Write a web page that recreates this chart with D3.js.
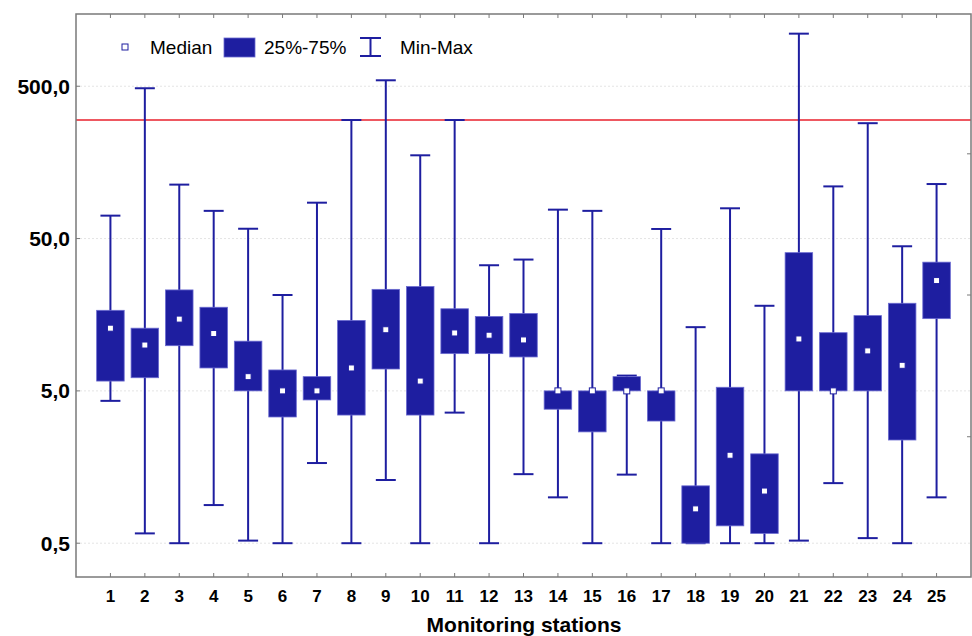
<!DOCTYPE html>
<html>
<head>
<meta charset="utf-8">
<script src="https://cdn.jsdelivr.net/npm/d3@7"></script>
<style>
  body { margin: 0; background: #fff; }
  svg { font-family: "Liberation Sans", Arial, sans-serif; }
</style>
</head>
<body>
<svg id="chart" width="972" height="636"></svg>
<script>
var stations = d3.range(1, 26);
var maxVals = [70.7, 485, 113, 76, 58, 21.3, 86, 300, 547, 176, 300, 33.4, 36.4, 77.4, 76, 6.3, 57.8, 13.1, 79, 18.1, 1107, 110, 286, 44.5, 114];
var q3Vals = [16.9, 12.9, 23.0, 17.7, 10.6, 6.86, 6.2, 14.5, 23.2, 24.2, 17.3, 15.4, 16.1, 5.0, 5.0, 6.2, 5.0, 1.19, 5.28, 1.93, 40.4, 12.05, 15.6, 18.8, 35.0];
var medianVals = [12.9, 10.0, 14.8, 11.9, 6.2, 5.0, 5.0, 7.07, 12.6, 5.8, 12.0, 11.6, 10.8, 5.0, 5.0, 5.0, 5.0, 0.84, 1.89, 1.10, 10.96, 5.0, 9.15, 7.36, 26.5];
var q1Vals = [5.8, 6.1, 9.9, 7.07, 5.0, 3.37, 4.36, 3.47, 6.96, 3.47, 8.78, 8.78, 8.35, 3.79, 2.69, 5.0, 3.17, 0.5, 0.65, 0.58, 5.0, 5.0, 5.0, 2.38, 14.9];
var minVals = [4.3, 0.58, 0.5, 0.89, 0.52, 0.5, 1.68, 0.5, 1.30, 0.5, 3.6, 0.5, 1.42, 1.0, 0.5, 1.41, 0.5, 0.5, 0.5, 0.5, 0.52, 1.24, 0.54, 0.5, 1.0];
var yTicks = [0.5, 5, 50, 500];
var rightTicks = [180, 21.3, 2.5];
var limitValue = 300;
var legendLabels = ['Median', '25%-75%', 'Min-Max'];

var svg = d3.select('#chart');
var margin = {top: 14, right: 1, bottom: 59, left: 76};
var width = 972 - margin.left - margin.right;
var height = 636 - margin.top - margin.bottom;
var navy = '#1e1ea0';

var x = d3.scaleLinear().domain([0, 26]).range([0, width]);
var y = d3.scaleLog().domain([0.3, 1490]).range([height, 0]);
var fmt = function(d) { return d3.format('.1f')(d).replace('.', ','); };

var boxes = stations.map(function(s, i) {
  return {station: s, min: minVals[i], q1: q1Vals[i], median: medianVals[i], q3: q3Vals[i], max: maxVals[i]};
});

var g = svg.append('g').attr('transform', 'translate(' + margin.left + ',' + margin.top + ')');

// grid lines
g.selectAll('.grid')
  .data(yTicks)
  .enter().append('line')
  .attr('class', 'grid')
  .attr('x1', 0).attr('x2', width)
  .attr('y1', function(d) { return y(d); })
  .attr('y2', function(d) { return y(d); })
  .style('stroke', '#e4e4e4')
  .style('stroke-dasharray', '2,2');

// limit line
g.append('line')
  .attr('x1', 0).attr('x2', width)
  .attr('y1', y(limitValue)).attr('y2', y(limitValue))
  .style('stroke', '#e8202c')
  .style('stroke-width', 1.5);

var boxW = x(0.8) - x(0);
var capW = x(0.58) - x(0);

var bg = g.selectAll('.box')
  .data(boxes)
  .enter().append('g')
  .attr('class', 'box')
  .attr('transform', function(d) { return 'translate(' + x(d.station) + ',0)'; });

bg.append('line')
  .attr('x1', 0).attr('x2', 0)
  .attr('y1', function(d) { return y(d.min); })
  .attr('y2', function(d) { return y(d.max); })
  .style('stroke', navy).style('stroke-width', 2);

bg.append('line')
  .attr('x1', -capW / 2).attr('x2', capW / 2)
  .attr('y1', function(d) { return y(d.max); })
  .attr('y2', function(d) { return y(d.max); })
  .style('stroke', navy).style('stroke-width', 2);

bg.append('line')
  .attr('x1', -capW / 2).attr('x2', capW / 2)
  .attr('y1', function(d) { return y(d.min); })
  .attr('y2', function(d) { return y(d.min); })
  .style('stroke', navy).style('stroke-width', 2);

bg.append('rect')
  .attr('x', -boxW / 2)
  .attr('width', boxW)
  .attr('y', function(d) { return y(d.q3); })
  .attr('height', function(d) { return Math.max(y(d.q1) - y(d.q3), 1); })
  .style('fill', navy)
  .style('stroke', '#6a6ad0')
  .style('stroke-width', 0.8);

bg.append('rect')
  .attr('x', -3).attr('width', 6)
  .attr('y', function(d) { return y(d.median) - 3; })
  .attr('height', 6)
  .style('fill', '#fff')
  .style('stroke', navy)
  .style('stroke-width', 1);

// frame
g.append('rect')
  .attr('width', width).attr('height', height)
  .style('fill', 'none')
  .style('stroke', '#7a7a7a')
  .style('stroke-width', 1.5);

// x ticks top and bottom, pointing in
g.selectAll('.xtick-b')
  .data(stations)
  .enter().append('line')
  .attr('x1', function(d) { return x(d); }).attr('x2', function(d) { return x(d); })
  .attr('y1', height).attr('y2', height - 4)
  .style('stroke', '#7a7a7a');
g.selectAll('.xtick-t')
  .data(stations)
  .enter().append('line')
  .attr('x1', function(d) { return x(d); }).attr('x2', function(d) { return x(d); })
  .attr('y1', 0).attr('y2', 4)
  .style('stroke', '#7a7a7a');

g.selectAll('.xlabel')
  .data(stations)
  .enter().append('text')
  .attr('x', function(d) { return x(d); })
  .attr('y', height + 25)
  .attr('text-anchor', 'middle')
  .style('font-size', '17px')
  .style('font-weight', 'bold')
  .text(function(d) { return d; });

// y ticks
g.selectAll('.ytick')
  .data(yTicks)
  .enter().append('line')
  .attr('x1', 0).attr('x2', 4)
  .attr('y1', function(d) { return y(d); })
  .attr('y2', function(d) { return y(d); })
  .style('stroke', '#7a7a7a');

g.selectAll('.ylabel')
  .data(yTicks)
  .enter().append('text')
  .attr('x', -6)
  .attr('y', function(d) { return y(d); })
  .attr('dy', '0.36em')
  .attr('text-anchor', 'end')
  .style('font-size', '21px')
  .style('font-weight', 'bold')
  .text(fmt);

g.selectAll('.rtick')
  .data(rightTicks)
  .enter().append('line')
  .attr('x1', width - 4).attr('x2', width)
  .attr('y1', function(d) { return y(d); })
  .attr('y2', function(d) { return y(d); })
  .style('stroke', '#7a7a7a');

svg.append('text')
  .attr('x', 524)
  .attr('y', 632)
  .attr('text-anchor', 'middle')
  .style('font-size', '21px')
  .style('font-weight', 'bold')
  .text('Monitoring stations');

// legend
var lg = svg.append('g');
lg.append('rect')
  .attr('x', 122).attr('y', 44).attr('width', 6).attr('height', 6)
  .style('fill', '#fff').style('stroke', navy).style('stroke-width', 1);
lg.append('text').attr('x', 150).attr('y', 54).style('font-size', '19px').text(legendLabels[0]);
lg.append('rect')
  .attr('x', 224).attr('y', 38).attr('width', 31).attr('height', 19)
  .style('fill', navy).style('stroke', '#6a6ad0').style('stroke-width', 0.8);
lg.append('text').attr('x', 264).attr('y', 54).style('font-size', '19px').text(legendLabels[1]);
lg.append('line').attr('x1', 360).attr('x2', 381).attr('y1', 38).attr('y2', 38).style('stroke', navy).style('stroke-width', 2);
lg.append('line').attr('x1', 360).attr('x2', 381).attr('y1', 56).attr('y2', 56).style('stroke', navy).style('stroke-width', 2);
lg.append('line').attr('x1', 370.5).attr('x2', 370.5).attr('y1', 38).attr('y2', 56).style('stroke', navy).style('stroke-width', 2);
lg.append('text').attr('x', 400).attr('y', 54).style('font-size', '19px').text(legendLabels[2]);
</script>
</body>
</html>
